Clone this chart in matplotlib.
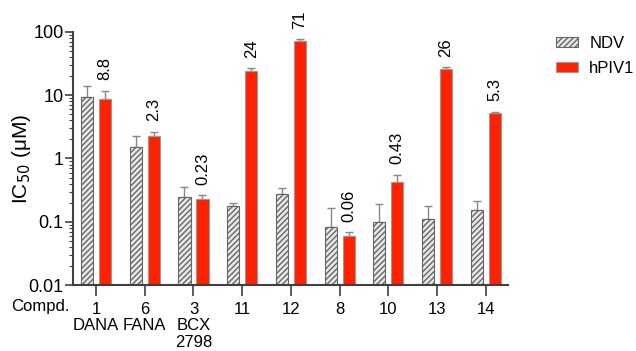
import matplotlib
matplotlib.use("Agg")
import matplotlib.pyplot as plt
import numpy as np
from matplotlib.ticker import LogLocator, FuncFormatter, NullFormatter

plt.rcParams['font.family'] = ['Liberation Sans', 'DejaVu Sans']
plt.rcParams['hatch.linewidth'] = 1.0
plt.rcParams['hatch.color'] = '#333333'

compds = ["1\nDANA", "6\nFANA", "3\nBCX\n2798", "11", "12", "8", "10", "13", "14"]
ndv = [9.5, 1.5, 0.25, 0.18, 0.27, 0.083, 0.1, 0.11, 0.155]
ndv_err = [4.5, 0.8, 0.11, 0.02, 0.07, 0.08, 0.09, 0.07, 0.055]
hpiv = [8.8, 2.3, 0.23, 24, 71, 0.06, 0.43, 26, 5.3]
hpiv_err = [3.0, 0.35, 0.03, 3.0, 6.0, 0.008, 0.12, 2.0, 0.15]
hpiv_labels = ["8.8", "2.3", "0.23", "24", "71", "0.06", "0.43", "26", "5.3"]

fig = plt.figure(figsize=(6.36, 3.51), dpi=100)
ax = fig.add_axes([0.115, 0.188, 0.684, 0.721])

x = np.arange(len(compds))
w = 0.25
off = 0.185
spine_c = "#404040"

ax.bar(x - off, ndv, w, color="#e8e8e8", edgecolor="#666666", hatch="//////",
       linewidth=0.8, label="NDV", zorder=2)
ax.bar(x + off, hpiv, w, color="#ff2200", edgecolor="#999999", linewidth=0.8,
       label="hPIV1", zorder=2)
ax.errorbar(x - off, ndv, yerr=[np.zeros(len(ndv)), ndv_err], fmt="none",
            ecolor="#888888", elinewidth=1, capsize=3, capthick=1, zorder=1)
ax.errorbar(x + off, hpiv, yerr=[np.zeros(len(hpiv)), hpiv_err], fmt="none",
            ecolor="#888888", elinewidth=1, capsize=3, capthick=1, zorder=1)

for xi, v, e, lab in zip(x, hpiv, hpiv_err, hpiv_labels):
    ax.annotate(lab, (xi + off, v + e), xytext=(0, 7.5), textcoords="offset points",
                rotation=90, ha="center", va="bottom", fontsize=12)

ax.set_yscale("log")
ax.set_ylim(0.01, 100)
ax.set_xlim(-0.47, 8.46)
ax.yaxis.set_major_locator(LogLocator(base=10, numticks=10))
ax.yaxis.set_minor_locator(LogLocator(base=10, subs=np.arange(2, 10), numticks=20))
ax.yaxis.set_major_formatter(FuncFormatter(lambda v, p: "%g" % v))
ax.yaxis.set_minor_formatter(NullFormatter())
ax.set_xticks(x)
ax.set_xticklabels(compds, fontsize=12, linespacing=1.12)
ax.tick_params(axis="y", labelsize=13, length=6, width=1.2, color=spine_c, pad=1)
ax.tick_params(axis="y", which="minor", length=3, width=0.8, color=spine_c)
ax.tick_params(axis="x", length=8, width=1.2, color=spine_c, pad=4)

for s in ["top", "right"]:
    ax.spines[s].set_visible(False)
for s in ["left", "bottom"]:
    ax.spines[s].set_color(spine_c)
    ax.spines[s].set_linewidth(1.5)

ax.set_ylabel("IC$_{50}$ ($\\mathregular{\\mu}$M)", fontsize=15)
ax.yaxis.set_label_coords(-0.092, 0.5)
fig.text(0.018, 0.128, "Compd.", fontsize=12, va="center", ha="left")

ax.legend(loc="upper left", bbox_to_anchor=(556 / 636, 1 - 36 / 351),
          bbox_transform=fig.transFigure, frameon=False, borderpad=0,
          borderaxespad=0, fontsize=12, handlelength=1.3, handleheight=0.6,
          handletextpad=0.7, labelspacing=0.6)

fig.savefig("out.png", dpi=100)
